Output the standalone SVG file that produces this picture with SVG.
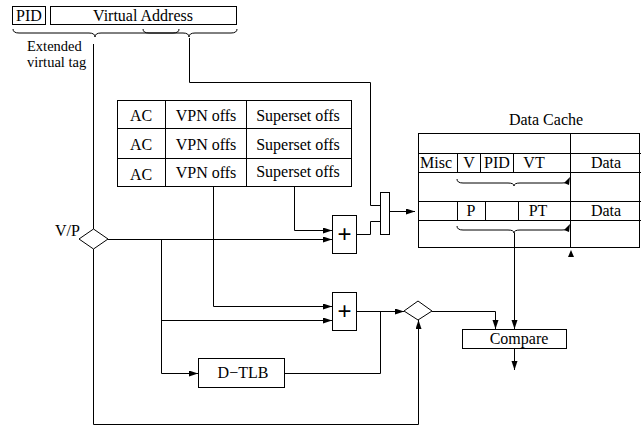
<svg xmlns="http://www.w3.org/2000/svg" width="641" height="428" viewBox="0 0 641 428">
<defs>
<marker id="ah" markerWidth="9" markerHeight="7" refX="9" refY="3" orient="auto" markerUnits="userSpaceOnUse">
<path d="M0,0 L9,3 L0,6 z" fill="#000"/>
</marker>
<style>
text{font-family:"Liberation Serif","Times New Roman",serif;font-size:16px;fill:#000}
.c{text-anchor:middle}
.s{font-size:14.5px}
.b{fill:#fff;stroke:#000;stroke-width:1}
.l{fill:none;stroke:#000;stroke-width:1}
.a{fill:none;stroke:#000;stroke-width:1;marker-end:url(#ah)}
.plus{font-family:"Liberation Sans",Arial,sans-serif;font-size:24px}
</style>
</defs>
<rect width="641" height="428" fill="#fff"/>

<g id="address">
<rect class="b" x="12.5" y="6.5" width="33" height="18"/>
<text class="c" x="29" y="21">PID</text>
<rect class="b" x="50.5" y="6.5" width="186" height="18"/>
<text class="c" x="143" y="21">Virtual Address</text>
<path class="l" d="M13,29 Q13,33 19,33 L89,33 Q95,33 95,37 Q95,33 101,33 L173,33 Q179,33 179,29"/>
<path class="l" d="M143,29 Q143,33 149,33 L183,33 Q189,33 189,37 Q189,33 195,33 L231,33 Q237,33 237,29"/>
<text class="s" x="27" y="51">Extended</text>
<text class="s" x="27" y="67">virtual tag</text>
</g>

<g id="ac-table">
<rect class="b" x="117.5" y="100.5" width="234" height="86"/>
<line class="l" x1="117" y1="128.5" x2="352" y2="128.5"/>
<line class="l" x1="117" y1="158.5" x2="352" y2="158.5"/>
<line class="l" x1="165.5" y1="100" x2="165.5" y2="187"/>
<line class="l" x1="246.5" y1="100" x2="246.5" y2="187"/>
<text class="c" x="141" y="121">AC</text>
<text class="c" x="206" y="121">VPN offs</text>
<text class="c" x="298" y="121">Superset offs</text>
<text class="c" x="141" y="150">AC</text>
<text class="c" x="206" y="150">VPN offs</text>
<text class="c" x="298" y="150">Superset offs</text>
<text class="c" x="141" y="180">AC</text>
<text class="c" x="206" y="178">VPN offs</text>
<text class="c" x="298" y="177">Superset offs</text>
</g>

<g id="data-cache">
<text class="c" x="546" y="125">Data Cache</text>
<rect class="b" x="418.5" y="133.5" width="221" height="114"/>
<line class="l" x1="418" y1="153.5" x2="641" y2="153.5"/>
<line class="l" x1="418" y1="172.5" x2="641" y2="172.5"/>
<line class="l" x1="418" y1="201.5" x2="641" y2="201.5"/>
<line class="l" x1="418" y1="220.5" x2="641" y2="220.5"/>
<line class="l" x1="570.5" y1="133" x2="570.5" y2="248"/>
<line class="l" x1="457.5" y1="153" x2="457.5" y2="172"/>
<line class="l" x1="480.5" y1="153" x2="480.5" y2="172"/>
<line class="l" x1="513.5" y1="153" x2="513.5" y2="172"/>
<line class="l" x1="457.5" y1="201" x2="457.5" y2="220"/>
<line class="l" x1="485.5" y1="201" x2="485.5" y2="220"/>
<line class="l" x1="518.5" y1="201" x2="518.5" y2="220"/>
<text x="420" y="168">Misc</text>
<text class="c" x="469" y="168">V</text>
<text class="c" x="497" y="168">PID</text>
<text class="c" x="534" y="168">VT</text>
<text class="c" x="606" y="168">Data</text>
<text class="c" x="471" y="216">P</text>
<text class="c" x="538" y="216">PT</text>
<text class="c" x="606" y="216">Data</text>
<path class="l" d="M457,179 Q457,183 463,183 L508,183 Q514,183 514,186 Q514,183 520,183 L562,183 Q568,183 568,180"/>
<path d="M564,183 L570,177 L569,185 z" fill="#000"/>
<path class="l" d="M457,226 Q457,230 463,230 L508,230 Q514,230 514,233 Q514,230 520,230 L562,230 Q568,230 568,227"/>
<path d="M564,230 L570,224 L569,232 z" fill="#000"/>
<path d="M571,250 L574,257 L568,257 z" fill="#000"/>
</g>

<g id="adder1">
<rect class="b" x="332.5" y="215.5" width="24" height="38"/>
<text class="c plus" x="344.5" y="242">+</text>
</g>
<g id="mux">
<rect class="b" x="380.5" y="192.5" width="9" height="42"/>
</g>
<g id="adder2">
<rect class="b" x="332.5" y="292.5" width="24" height="38"/>
<text class="c plus" x="344.5" y="319">+</text>
</g>
<g id="vp">
<polygon class="b" points="79,239 93.5,229 108,239 93.5,249"/>
<text x="55" y="236">V/P</text>
</g>
<g id="cmp-diamond">
<polygon class="b" points="404,311 418,301 432,311 418,320"/>
</g>
<g id="dtlb">
<rect class="b" x="198.5" y="358.5" width="86" height="29"/>
<text class="c" x="243" y="378">D−TLB</text>
</g>
<g id="compare">
<rect class="b" x="462.5" y="329.5" width="104" height="19"/>
<text class="c" x="519" y="344">Compare</text>
</g>

<g id="connectors">
<path class="l" d="M93.5,44 L93.5,229"/>
<path class="l" d="M189.5,38 L189.5,82.5 L370.5,82.5 L370.5,205.5 L380,205.5"/>
<path class="a" d="M294.5,187 L294.5,230.5 L332,230.5"/>
<path class="a" d="M108,239.5 L332,239.5"/>
<path class="l" d="M357,234.5 L370.5,234.5 L370.5,221.5 L380,221.5"/>
<path class="a" d="M390,211.5 L415,211.5"/>
<path class="a" d="M213.5,187 L213.5,306.5 L332,306.5"/>
<path class="a" d="M161.5,239.5 L161.5,373.5 L198,373.5"/>
<path class="a" d="M161.5,320.5 L332,320.5"/>
<path class="a" d="M357,311.5 L404,311.5"/>
<path class="l" d="M285,373.5 L380.5,373.5 L380.5,311.5"/>
<path class="a" d="M93.5,249 L93.5,424.5 L418.5,424.5 L418.5,320"/>
<path class="a" d="M432,311.5 L495.5,311.5 L495.5,329"/>
<path class="a" d="M514.5,233 L514.5,329"/>
<path class="a" d="M514.5,349 L514.5,370"/>
</g>
</svg>
